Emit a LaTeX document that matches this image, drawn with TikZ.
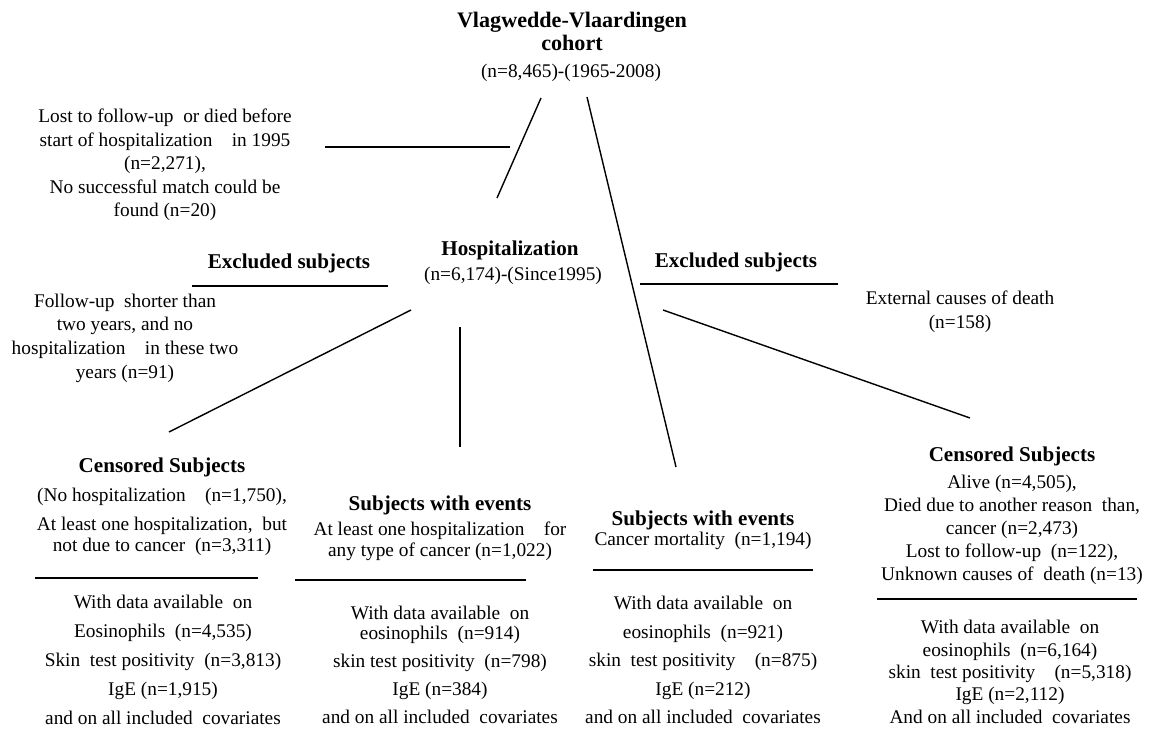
\documentclass[tikz,border=0pt]{standalone}
\usepackage{fontspec}
\setmainfont{Liberation Serif}
\usetikzlibrary{positioning}
\newcommand{\hdr}[1]{{\fontsize{12}{14}\selectfont\bfseries #1}}
\tikzset{
  every node/.style={align=center,inner sep=0pt,outer sep=0pt},
  every path/.style={line width=0.8pt},
  txt/.style={font=\fontsize{11}{#1}\selectfont},
  txt/.default=13.4pt,
  hd/.style={font=\fontsize{12}{13.1}\selectfont\bfseries},
}
\begin{document}
\begin{tikzpicture}[x=0.02cm,y=-0.02cm]
  \useasboundingbox (0,0) rectangle (1151,729);
  % cohort and first exclusion
  \node[hd,font=\fontsize{12.6}{13.1}\selectfont\bfseries] (coh) at (572,31) {Vlagwedde-Vlaardingen\\cohort};
  \node[txt] (cohn) at (571,73) {(n=8,465)-(1965-2008)};
  \node[txt=13.4pt] (lost) at (165,165) {Lost to follow-up\ \ or died before\\start of hospitalization\quad in 1995\\(n=2,271),\\No successful match could be\\found (n=20)};
  % hospitalization and second exclusions
  \node[hd] (hosp) at (510,250) {Hospitalization};
  \node[txt] (hospn) at (513,276) {(n=6,174)-(Since1995)};
  \node[hd] (exl) at (289,263) {Excluded subjects};
  \node[hd] (exr) at (736,262) {Excluded subjects};
  \node[txt=13.5pt] (fu) at (125,338) {Follow-up\ \ shorter than\\two years, and no\\hospitalization\quad in these two\\years (n=91)};
  \node[txt=13.7pt] (ext) at (960,312) {External causes of death\\(n=158)};
  % outcome groups
  \node[txt=16.5pt] (cens) at (162,507) {\hdr{Censored Subjects}\\(No hospitalization\quad (n=1,750),\\At least one hospitalization,\ \ but\\[-4.5pt]not due to cancer\ \ (n=3,311)};
  \node[txt=16.4pt] (censd) at (163,660) {With data available\ \ on\\Eosinophils\ \ (n=4,535)\\Skin\ \ test positivity\ \ (n=3,813)\\IgE (n=1,915)\\and on all included\ \ covariates};
  \node[txt=12pt] (hev) at (440,528) {\hdr{Subjects with events}\\[2.2pt]At least one hospitalization\quad for\\any type of cancer (n=1,022)};
  \node[txt=16pt] (hevd) at (440,665) {With data available\ \ on\\[-4.5pt]eosinophils\ \ (n=914)\\skin test positivity\ \ (n=798)\\IgE (n=384)\\and on all included\ \ covariates};
  \node[txt=11.4pt] (mev) at (703,530) {\hdr{Subjects with events}\\Cancer mortality\ \ (n=1,194)};
  \node[txt=16.2pt] (mevd) at (703,660) {With data available\ \ on\\eosinophils\ \ (n=921)\\skin\ \ test positivity\quad (n=875)\\IgE (n=212)\\and on all included\ \ covariates};
  \node[txt=13.1pt] (cenr) at (1012,516) {\hdr{Censored Subjects}\\[2.3pt]Alive (n=4,505),\\Died due to another reason\ \ than,\\cancer (n=2,473)\\Lost to follow-up\ \ (n=122),\\Unknown causes of\ \ death (n=13)};
  \node[txt=12.7pt] (cenrd) at (1010,672) {With data available\ \ on\\eosinophils\ \ (n=6,164)\\skin\ \ test positivity\quad (n=5,318)\\IgE (n=2,112)\\And on all included\ \ covariates};
  % branch ends
  \coordinate (cohA) at (541,98);
  \coordinate (hospA) at (497,198);
  \coordinate (cohB) at (587,97);
  \coordinate (mevB) at (676,467);
  \coordinate (lostE) at (325,147);
  \coordinate (lostW) at (510,147);
  \coordinate (hospC) at (411,310);
  \coordinate (censC) at (169,432);
  \coordinate (hospD) at (460,327);
  \coordinate (hevD) at (460,447);
  \coordinate (mevE) at (663,310);
  \coordinate (cenrE) at (970,418);
  \draw (cohA) -- (hospA);
  \draw (cohB) -- (mevB);
  \draw (lostE) -- (lostW);
  \draw (hospC) -- (censC);
  \draw (hospD) -- (hevD);
  \draw (mevE) -- (cenrE);
  % rules
  \draw (192,286) -- (388,286);
  \draw (640,284) -- (838,284);
  \draw (35,578) -- (258,578);
  \draw (295,580) -- (526,580);
  \draw (593,570) -- (813,570);
  \draw (877,599) -- (1137,599);
\end{tikzpicture}
\end{document}
